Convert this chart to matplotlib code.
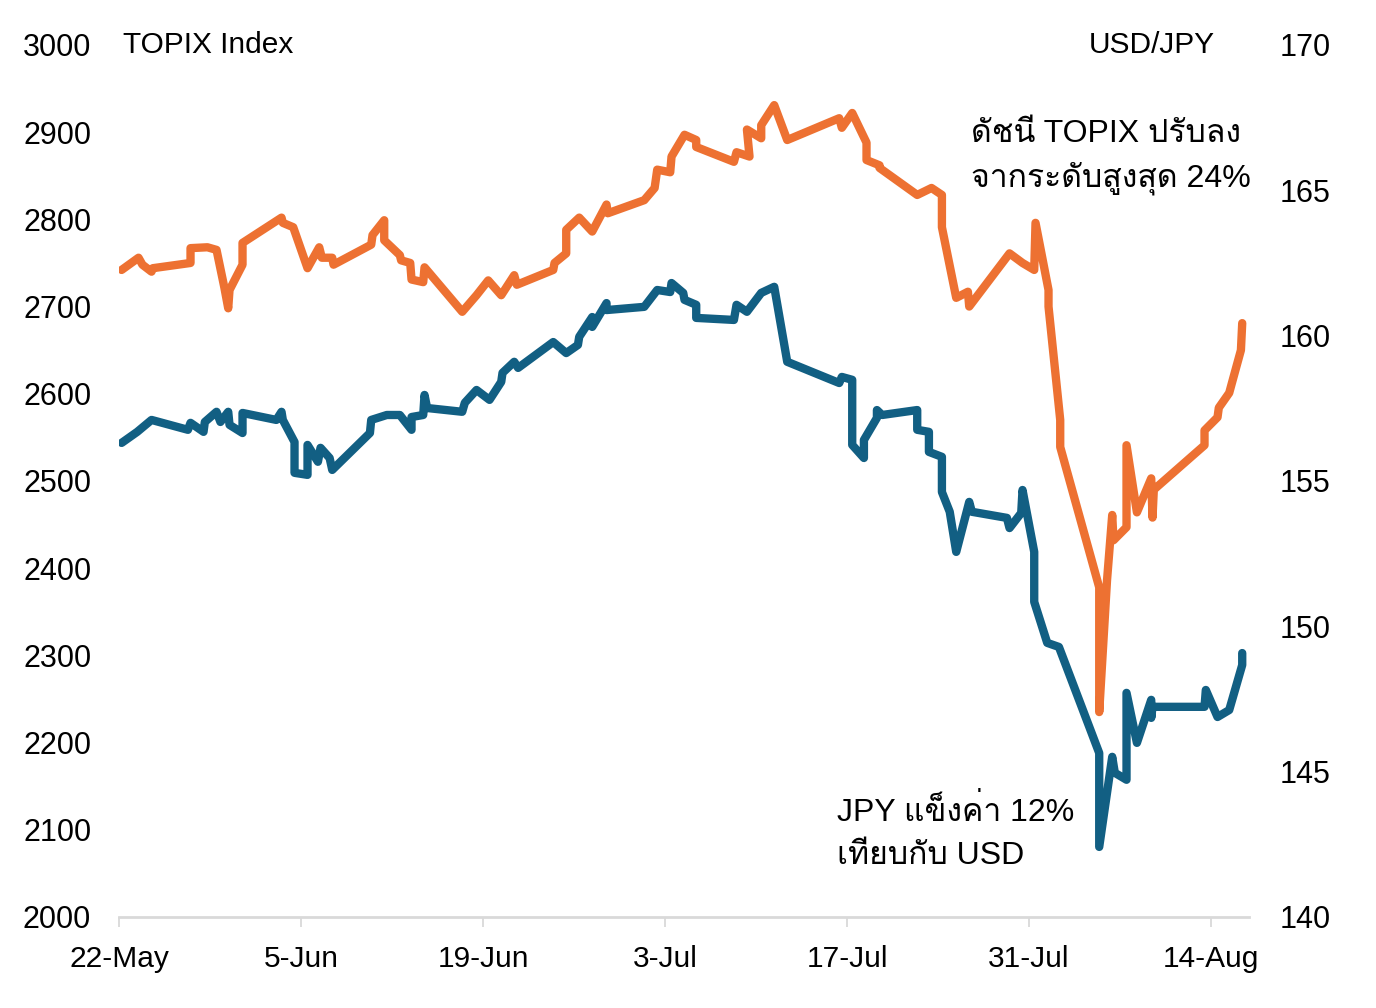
import matplotlib
matplotlib.use("Agg")
import matplotlib.pyplot as plt
from matplotlib import font_manager
from matplotlib.ft2font import FT2Font

# days after 22-May
topix_days = [0.2, 1.5, 1.8, 2.5, 2.6, 5.5, 5.5, 6.8, 7.5, 8.1, 8.4, 8.5, 9.5, 9.5,
              12.5, 12.6, 13.4, 14.5, 15.4, 15.6, 16.4, 16.5, 19.4, 19.5, 20.4, 20.4,
              21.6, 21.7, 22.4, 22.5, 23.4, 23.5, 26.4, 27.5, 28.4, 29.4, 30.4, 30.6,
              33.4, 33.5, 34.4, 34.4, 35.4, 36.4, 37.5, 37.6, 40.4, 41.2, 41.4, 42.4,
              42.5, 43.5, 44.4, 44.4, 47.3, 47.5, 48.5, 48.3, 49.4, 49.4, 50.4, 51.4,
              55.4, 55.6, 56.4, 57.5, 57.5, 58.5, 58.5, 61.4, 62.5, 63.3, 63.3, 64.4,
              65.3, 65.4, 68.5, 69.5, 70.4, 70.5, 71.5, 71.5, 72.4, 72.4, 75.4, 75.4,
              76.0, 76.4, 76.5, 77.5, 77.5, 78.3, 79.4, 79.5, 79.6, 83.5, 83.5, 84.5,
              84.6, 85.4, 85.6, 86.3, 86.4]
topix = [2742, 2756, 2748, 2740, 2744, 2750, 2767, 2768, 2765, 2722, 2698, 2719, 2748, 2773,
         2802, 2796, 2791, 2744, 2768, 2756, 2756, 2748, 2771, 2782, 2799, 2776,
         2759, 2753, 2750, 2731, 2728, 2745, 2694, 2713, 2730, 2713, 2736, 2725,
         2742, 2750, 2761, 2788, 2802, 2786, 2817, 2807, 2822, 2836, 2857, 2854,
         2872, 2897, 2891, 2883, 2866, 2877, 2872, 2903, 2893, 2908, 2931, 2891,
         2916, 2905, 2922, 2888, 2868, 2862, 2859, 2828, 2836, 2828, 2791, 2710,
         2717, 2700, 2761, 2750, 2742, 2796, 2719, 2700, 2570, 2539, 2378, 2235,
         2386, 2461, 2432, 2447, 2541, 2464, 2503, 2458, 2490, 2541, 2558, 2573,
         2584, 2601, 2612, 2650, 2681]

usdjpy_days = [0.2, 1.4, 2.5, 5.3, 5.5, 6.5, 6.6, 7.5, 7.8, 8.4, 8.5, 9.5, 9.5, 12.1,
               12.5, 12.6, 13.5, 13.5, 14.5, 14.5, 15.3, 15.5, 16.2, 16.4, 19.3, 19.4,
               20.6, 21.6, 22.5, 22.5, 23.4, 23.5, 23.7, 26.4, 26.6, 27.5, 28.5, 29.4,
               29.5, 30.4, 30.7, 33.4, 34.4, 35.3, 35.4, 36.4, 36.4, 37.5, 37.5, 40.4,
               41.4, 42.4, 42.5, 43.4, 43.5, 44.4, 44.4, 47.3, 47.5, 48.3, 49.4, 50.4,
               51.4, 55.4, 55.6, 56.4, 56.4, 57.3, 57.3, 58.3, 58.3, 58.7, 61.4, 61.4,
               62.3, 62.3, 63.3, 63.3, 63.9, 64.4, 65.4, 65.6, 68.3, 68.5, 69.4, 69.5,
               70.4, 70.4, 71.4, 72.3, 75.4, 75.4, 76.4, 76.6, 77.5, 77.5, 78.3, 79.4,
               79.4, 79.5, 83.5, 83.6, 84.5, 85.4, 86.4, 86.4]
usdjpy = [156.31, 156.69, 157.10, 156.76, 157.00, 156.69, 157.03, 157.38, 157.03, 157.38,
          156.93, 156.65, 157.34, 157.10, 157.38, 157.10, 156.34, 155.28, 155.21, 156.24,
          155.66, 156.14, 155.79, 155.38, 156.65, 157.10, 157.27, 157.27, 156.76, 157.20,
          157.27, 157.96, 157.51, 157.38, 157.69, 158.13, 157.79, 158.41, 158.72, 159.10,
          158.89, 159.78, 159.40, 159.68, 159.96, 160.64, 160.30, 161.12, 160.88, 160.99,
          161.57, 161.50, 161.81, 161.47, 161.23, 161.06, 160.61, 160.54, 161.06, 160.82,
          161.47, 161.68, 159.10, 158.37, 158.58, 158.48, 156.24, 155.79, 156.41, 157.17,
          157.44, 157.27, 157.44, 156.76, 156.69, 156.00, 155.83, 154.62, 153.94, 152.56,
          154.28, 153.94, 153.73, 153.38, 153.90, 154.69, 152.56, 150.84, 149.43, 149.29,
          145.64, 142.41, 145.51, 144.96, 144.72, 147.71, 145.99, 147.47, 146.85, 147.23,
          147.23, 147.81, 146.88, 147.12, 148.67, 149.08]

tick_days = [0, 14, 28, 42, 56, 70, 84]
tick_labels = ["22-May", "5-Jun", "19-Jun", "3-Jul", "17-Jul", "31-Jul", "14-Aug"]

ORANGE = "#ED7132"
BLUE = "#125F83"
GRID = "#D9D9D9"


def find_thai_font():
    for f in font_manager.fontManager.ttflist:
        try:
            if 0x0E14 in FT2Font(f.fname).get_charmap():
                return f.name
        except Exception:
            pass
    return None


thai = find_thai_font()
families = ["Liberation Sans"] + ([thai] if thai else []) + ["DejaVu Sans"]
plt.rcParams["font.family"] = families

fig = plt.figure(figsize=(13.76, 10.08), dpi=100)
ax = fig.add_axes([0.0865, 0.0903, 0.9075 - 0.0865, 0.9554 - 0.0903])
ax2 = ax.twinx()

ax.plot(topix_days, topix, color=ORANGE, lw=6, solid_joinstyle="round",
        solid_capstyle="round", zorder=3)
ax2.plot(usdjpy_days, usdjpy, color=BLUE, lw=6, solid_joinstyle="round",
         solid_capstyle="round", zorder=3)

ax.set_xlim(0, 86.9)
ax.set_ylim(2000, 3000)
ax2.set_ylim(140, 170)
ax.set_yticks(range(2000, 3001, 100))
ax2.set_yticks(range(140, 171, 5))
ax.set_xticks(tick_days)
ax.set_xticklabels(tick_labels)

for a in (ax, ax2):
    for s in ("top", "left", "right"):
        a.spines[s].set_visible(False)
    a.spines["bottom"].set_color(GRID)
    a.spines["bottom"].set_linewidth(2)
ax2.spines["bottom"].set_visible(False)

ax.tick_params(axis="x", direction="out", length=7, width=1.3, color=GRID,
               labelsize=21.5, pad=13)
ax.tick_params(axis="y", length=0, labelsize=22, pad=20)
ax2.tick_params(axis="y", length=0, labelsize=22, pad=22)

ax.text(0.3, 3000, "TOPIX Index", fontsize=21.5, va="center", ha="left")
ax2.text(84.3, 170, "USD/JPY", fontsize=21.5, va="center", ha="right")

ax.text(65.5, 2871, "ดัชนี TOPIX ปรับลง\nจากระดับสูงสุด 24%", fontsize=23,
        va="center", ha="left", linespacing=1.55)
ax2.text(55.2, 142.88, "JPY แข็งค่า 12%\nเทียบกับ USD", fontsize=23,
         va="center", ha="left", linespacing=1.55)

fig.savefig("out.png", dpi=100, facecolor="white")
